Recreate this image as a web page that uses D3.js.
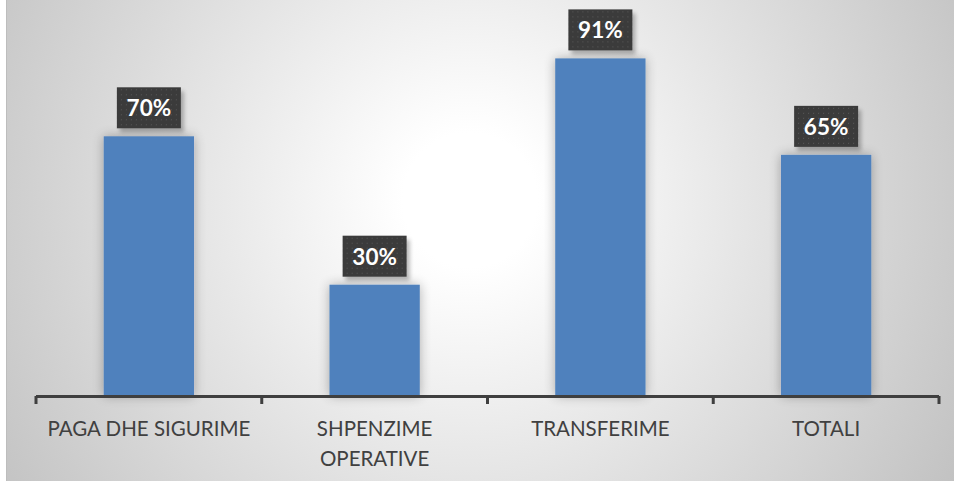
<!DOCTYPE html>
<html>
<head>
<meta charset="utf-8">
<script src="https://cdn.jsdelivr.net/npm/d3@7"></script>
<style>
 html, body { margin: 0; padding: 0; background: #ffffff; }
 svg { display: block; }
</style>
</head>
<body>
<svg id="chart" width="954" height="481"></svg>
<script>
// data
var categories = ['PAGA DHE SIGURIME', 'SHPENZIME OPERATIVE', 'TRANSFERIME', 'TOTALI'];
var shares = [0.70, 0.30, 0.91, 0.65];
var shareLabels = ['70%', '30%', '91%', '65%'];

var W = 954, H = 481;
var svg = d3.select('#chart');
var defs = svg.append('defs');

// radial background, white in the middle and grey toward the corners
var bg = defs.append('radialGradient')
 .attr('id', 'bgGrad')
 .attr('gradientUnits', 'userSpaceOnUse')
 .attr('cx', 470).attr('cy', 200).attr('r', 560);
bg.append('stop').attr('offset', '0').attr('stop-color', '#ffffff');
bg.append('stop').attr('offset', '0.12').attr('stop-color', '#ffffff');
bg.append('stop').attr('offset', '1').attr('stop-color', '#c2c2c2');

// soft shadow round the bars
var barShadow = defs.append('filter').attr('id', 'barShadow')
 .attr('x', '-40%').attr('y', '-20%').attr('width', '180%').attr('height', '140%');
barShadow.append('feGaussianBlur').attr('in', 'SourceAlpha').attr('stdDeviation', 6).attr('result', 'blur');
barShadow.append('feComponentTransfer').attr('in', 'blur').attr('result', 'faded')
 .append('feFuncA').attr('type', 'linear').attr('slope', 0.3);
var bm = barShadow.append('feMerge');
bm.append('feMergeNode').attr('in', 'faded');
bm.append('feMergeNode').attr('in', 'SourceGraphic');

// label box shadow, offset down right
var boxShadow = defs.append('filter').attr('id', 'boxShadow')
 .attr('x', '-20%').attr('y', '-20%').attr('width', '150%').attr('height', '160%');
boxShadow.append('feGaussianBlur').attr('in', 'SourceAlpha').attr('stdDeviation', 2).attr('result', 'blur');
boxShadow.append('feOffset').attr('in', 'blur').attr('dx', 3).attr('dy', 4).attr('result', 'off');
boxShadow.append('feComponentTransfer').attr('in', 'off').attr('result', 'faded')
 .append('feFuncA').attr('type', 'linear').attr('slope', 0.28);
var xm = boxShadow.append('feMerge');
xm.append('feMergeNode').attr('in', 'faded');
xm.append('feMergeNode').attr('in', 'SourceGraphic');

// dotted fill of the label boxes
var dots = defs.append('pattern').attr('id', 'dots')
 .attr('patternUnits', 'userSpaceOnUse').attr('width', 5).attr('height', 5);
dots.append('rect').attr('width', 5).attr('height', 5).attr('fill', '#3b3b3b');
dots.append('rect').attr('x', 2).attr('y', 2).attr('width', 1).attr('height', 1).attr('fill', '#5a5a5a');

// chart area
svg.append('rect')
 .attr('x', 6).attr('y', 0)
 .attr('width', W - 6).attr('height', H)
 .attr('fill', 'url(#bgGrad)');
svg.append('line')
 .attr('x1', 6.5).attr('x2', 6.5).attr('y1', 0).attr('y2', H)
 .style('stroke', '#bdbdbd').style('stroke-width', '1px');

var axisY = 396;
var x = d3.scaleBand()
 .domain(categories)
 .range([36, 939])
 .paddingInner(0.6)
 .paddingOuter(0.3);
var y = d3.scaleLinear().domain([0, 1]).range([axisY, 25]);

// bars
svg.append('g').selectAll('rect')
 .data(categories)
 .join('rect')
 .attr('x', function(d) { return x(d); })
 .attr('y', function(d, i) { return y(shares[i]); })
 .attr('width', x.bandwidth())
 .attr('height', function(d, i) { return axisY - y(shares[i]); })
 .attr('fill', '#4f81bd')
 .attr('filter', 'url(#barShadow)');

// axis line and ticks between the categories
var step = x.step();
var tickPos = d3.range(categories.length + 1).map(function(k) { return 36 + k * step; });
var axisG = svg.append('g');
axisG.append('line')
 .attr('x1', 36).attr('x2', 939)
 .attr('y1', axisY + 0.5).attr('y2', axisY + 0.5)
 .style('stroke', '#3f3f3f').style('stroke-width', '3px');
axisG.selectAll('.tick')
 .data(tickPos)
 .join('line')
 .attr('class', 'tick')
 .attr('x1', function(d) { return d; }).attr('x2', function(d) { return d; })
 .attr('y1', axisY).attr('y2', axisY + 8)
 .style('stroke', '#3f3f3f').style('stroke-width', '3px');

// category labels, wrapped to the band width
var catText = svg.append('g').selectAll('text')
 .data(categories)
 .join('text')
 .attr('x', function(d) { return x(d) + x.bandwidth() / 2; })
 .attr('y', 436)
 .attr('text-anchor', 'middle')
 .attr('font-family', 'Lato, "Open Sans", sans-serif')
 .attr('font-size', 20.5)
 .attr('fill', '#404040');
catText.each(function(d) {
 var t = d3.select(this);
 var words = d.split(' ');
 var line = [];
 var tspan = t.append('tspan').attr('x', t.attr('x')).attr('dy', 0);
 words.forEach(function(w) {
  line.push(w);
  tspan.text(line.join(' '));
  if (tspan.node().getComputedTextLength() > 212 && line.length > 1) {
   line.pop();
   tspan.text(line.join(' '));
   line = [w];
   tspan = t.append('tspan').attr('x', t.attr('x')).attr('dy', 30).text(w);
  }
 });
});

// value labels in dark boxes
var boxW = 64, boxH = 41;
var lab = svg.append('g').selectAll('g')
 .data(categories)
 .join('g')
 .attr('transform', function(d, i) {
  return 'translate(' + (x(d) + x.bandwidth() / 2) + ',' + (y(shares[i]) - 8 - boxH) + ')';
 });
lab.append('rect')
 .attr('x', -boxW / 2).attr('y', 0)
 .attr('width', boxW).attr('height', boxH)
 .attr('fill', 'url(#dots)')
 .attr('filter', 'url(#boxShadow)');
lab.append('text')
 .attr('x', 0).attr('y', 29)
 .attr('text-anchor', 'middle')
 .attr('font-family', 'Lato, "Open Sans", sans-serif')
 .attr('font-weight', 'bold')
 .attr('font-size', 22.5)
 .attr('fill', '#ffffff')
 .text(function(d, i) { return shareLabels[i]; });
</script>
</body>
</html>
